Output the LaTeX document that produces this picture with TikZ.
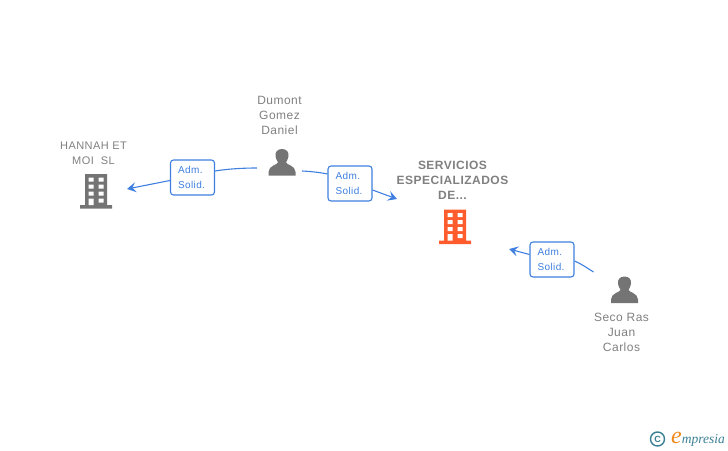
\documentclass[tikz,border=0pt]{standalone}
\usepackage{fontspec}
\setmainfont{Liberation Sans}[LetterSpace=4]
\newfontfamily\logofont{Liberation Serif}
\usetikzlibrary{arrows.meta,calc}
\definecolor{txtgray}{HTML}{808080}
\definecolor{icongray}{HTML}{747474}
\definecolor{iconorange}{HTML}{FF5C2E}
\definecolor{linkblue}{HTML}{3F7FE0}
\definecolor{logoteal}{HTML}{3A7F94}
\definecolor{logoorange}{HTML}{F08A1D}
\tikzset{
  x=1pt,y=-1pt,
  caption/.style={text=txtgray,font=\fontsize{12}{15}\selectfont,align=center,inner sep=0pt},
  captionbold/.style={text=txtgray,font=\fontsize{12}{15}\selectfont\bfseries,align=center,inner sep=0pt},
  roletag/.style={draw=linkblue,line width=1.1pt,rounded corners=3pt,fill=white,text=linkblue,
    text width=29pt,minimum height=35pt,inner xsep=7.5pt,inner ysep=0pt,align=left,
    font=\fontsize{10}{15.5}\selectfont},
  iconbox/.style={minimum width=1pt,minimum height=1pt,inner sep=0pt,outer sep=0pt},
  link/.style={draw=linkblue,line width=1.1pt},
  linkarrow/.style={link,-{Stealth[length=9pt,width=10pt,inset=3.5pt]}}
}
\newcommand{\buildingicon}[2]{%
  \begin{scope}[shift={(#1)}]
    \fill[#2] (-11,-17) rectangle (11,14) (-16,14) rectangle (16,17.5);
    \fill[white]
      (-7.5,-13.5) rectangle (-2.5,-9.5) (2.5,-13.5) rectangle (7.5,-9.5)
      (-7.5,-6.5) rectangle (-2.5,-2.5) (2.5,-6.5) rectangle (7.5,-2.5)
      (-7.5,0.5) rectangle (-2.5,4.5) (2.5,0.5) rectangle (7.5,4.5)
      (-7.5,7.5) rectangle (-2.5,14) (2.5,7.5) rectangle (7.5,11.5);
  \end{scope}}
\newcommand{\personicon}[1]{%
  \begin{scope}[shift={(#1)}]
    \fill[icongray] (0,-14) .. controls (5,-14) and (7,-10.5) .. (6.5,-7)
      .. controls (6,-3.5) and (4.5,-2) .. (4,-0.5)
      .. controls (4,1.5) and (13.5,2.5) .. (13.5,9)
      -- (13.5,12.5) -- (-13.5,12.5) -- (-13.5,9)
      .. controls (-13.5,2.5) and (-4,1.5) .. (-4,-0.5)
      .. controls (-4.5,-2) and (-6,-3.5) .. (-6.5,-7)
      .. controls (-7,-10.5) and (-5,-14) .. (0,-14) -- cycle;
  \end{scope}}
\begin{document}
\begin{tikzpicture}
\useasboundingbox (0,0) rectangle (728,450);
% nodes for the icons
\node[iconbox] (bh) at (96,191) {};
\node[iconbox] (bs) at (455,226.5) {};
\node[iconbox] (pd) at (282,163) {};
\node[iconbox] (ps) at (624.5,290.5) {};
\buildingicon{bh}{icongray}
\buildingicon{bs}{iconorange}
\personicon{pd}
\personicon{ps}
% captions
\node[caption,font=\fontsize{11}{15}\selectfont] (ch) at (93.5,153) {HANNAH ET\\MOI\ \ SL};
\node[caption] (cd) at (279.5,115) {Dumont\\Gomez\\Daniel};
\node[captionbold] (cs) at (452.5,180) {SERVICIOS\\ESPECIALIZADOS\\DE...};
\node[caption] (cp) at (621.5,332) {Seco Ras\\Juan\\Carlos};
% tags
\node[roletag] (t1) at (192.5,177.5) {Adm.\\Solid.};
\node[roletag] (t2) at (350,183.5) {Adm.\\Solid.};
\node[roletag] (t3) at (552,259.5) {Adm.\\Solid.};
% connectors
\draw[link] ($(pd)+(-25,5)$) .. controls ($(pd)+(-40,5)$) and ($(pd)+(-55,6)$) .. (t1.east |- 0,171);
\draw[linkarrow] (t1.west |- 0,180.5) -- ($(bh)+(31,-2)$);
\draw[link] ($(pd)+(20,8)$) .. controls ($(pd)+(30,8.5)$) and ($(pd)+(38,9.5)$) .. (t2.west |- 0,174);
\draw[linkarrow] (t2.east |- 0,190) -- ($(bs)+(-58,-27.5)$);
\draw[link] ($(ps)+(-31,-18.5)$) .. controls ($(ps)+(-38,-23)$) and ($(ps)+(-44,-27)$) .. (t3.east |- 0,261);
\draw[linkarrow] (t3.west |- 0,254.5) -- ($(bs)+(54,22.5)$);
% logo
\node[draw=logoteal,line width=1.4pt,circle,minimum size=14pt,inner sep=0pt,text=logoteal,font=\fontsize{9}{9}\selectfont\bfseries] (lc) at (657.5,439) {C};
\node[inner sep=0pt,anchor=base west,font=\fontsize{13.5}{14}\logofont\itshape,text=logoteal] (lg) at (671,443)
  {\textcolor{logoorange}{\fontsize{24}{22}\selectfont e}mpresia};
\end{tikzpicture}
\end{document}
